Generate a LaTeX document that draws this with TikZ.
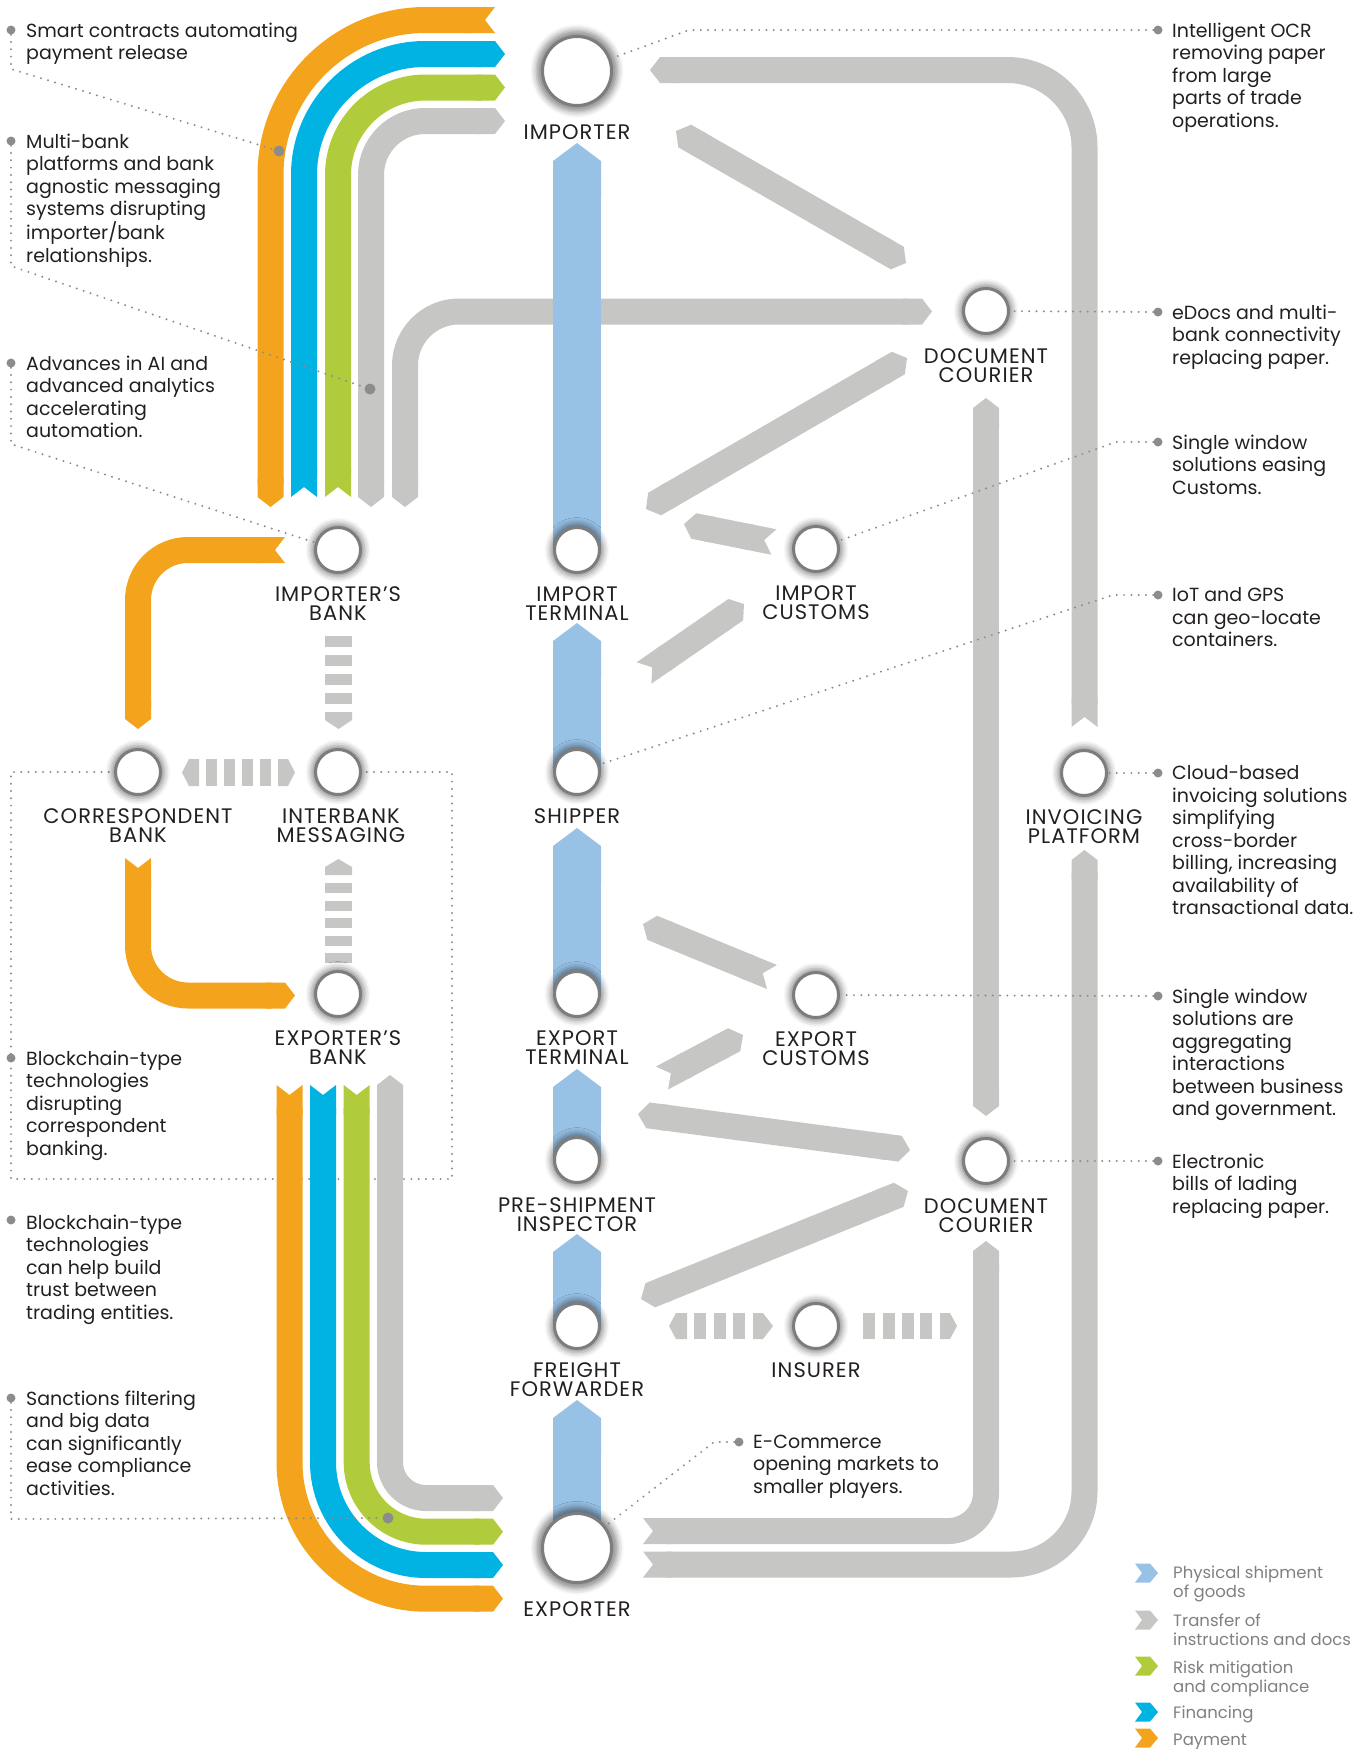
\documentclass[tikz,border=0pt]{standalone}
\usepackage{fontspec}
\setmainfont{Poppins}
\newfontfamily\labelfont{Poppins}[LetterSpace=5]
\usetikzlibrary{arrows.meta,backgrounds,positioning,shadows.blur}
\definecolor{paymentorange}{HTML}{F4A41C}
\definecolor{financecyan}{HTML}{00B3E3}
\definecolor{riskgreen}{HTML}{B0CB3B}
\definecolor{docgray}{HTML}{C6C6C5}
\definecolor{shipblue}{HTML}{98C1E6}
\definecolor{leadergray}{HTML}{8C8C8C}
\definecolor{ringgray}{HTML}{7D7D7D}
\definecolor{inkblack}{HTML}{231F20}
\definecolor{legendgray}{HTML}{808080}

\begin{document}
\begin{tikzpicture}[
  x=1pt, y=-1pt,
  band/.style={line width=26pt},
  pay/.style={band, draw=paymentorange},
  fin/.style={band, draw=financecyan},
  risk/.style={band, draw=riskgreen},
  docs/.style={band, draw=docgray},
  ship/.style={line width=48pt, draw=shipblue, -{Triangle Cap[length=18pt]}},
  tip-tip/.style={{Triangle Cap[length=10pt]}-{Triangle Cap[length=10pt]}},
  notch-tip/.style={{Triangle Cap[reversed,length=10pt]}-{Triangle Cap[length=10pt]}},
  tip-notch/.style={{Triangle Cap[length=10pt]}-{Triangle Cap[reversed,length=10pt]}},
  party/.style={circle, draw=ringgray, fill=white, line width=3pt, minimum size=45pt,
                inner sep=0pt, blur shadow={shadow xshift=0pt, shadow yshift=0pt,
                shadow scale=1.18, shadow blur radius=5pt, shadow opacity=45}},
  bigparty/.style={party, minimum size=69pt},
  lbl/.style={font=\labelfont\fontsize{21}{19}\selectfont, text=inkblack, align=center, inner sep=0pt},
  ann/.style={font=\fontsize{19}{22.5}\selectfont, text=inkblack, align=left,
              inner sep=0pt, anchor=north west},
  legend/.style={font=\fontsize{16.5}{19}\selectfont, text=legendgray, align=left,
                 inner sep=0pt, anchor=north west},
  bullet/.style={circle, fill=leadergray, minimum size=9pt, inner sep=0pt},
  dotmark/.style={circle, fill=leadergray, minimum size=11pt, inner sep=0pt},
  leader/.style={draw=leadergray, line width=2.2pt, line cap=round, dash pattern=on 0pt off 7.3pt},
  chevron/.pic={\fill (0,-9.5) -- (15,-9.5) -- (23,0) -- (15,9.5) -- (0,9.5) -- (7,0) -- cycle;}
]
\useasboundingbox (0,0) rectangle (1370,1749);

% Parties of the trade
\node[bigparty] (imp) at (577,71) {};
\node[party] (impbank) at (338,550) {};
\node[party] (impterm) at (577,550) {};
\node[party] (impcust) at (816,549) {};
\node[party] (courtop) at (986,311) {};
\node[party] (corrbank) at (138,772) {};
\node[party] (ibmsg) at (338,772) {};
\node[party] (shipper) at (577,772) {};
\node[party] (invoice) at (1084,773) {};
\node[party] (expbank) at (338,994) {};
\node[party] (expterm) at (577,994) {};
\node[party] (expcust) at (816,995) {};
\node[party] (inspect) at (577,1160) {};
\node[party] (courbot) at (986,1161) {};
\node[party] (forwarder) at (577,1326) {};
\node[party] (insurer) at (816,1326) {};
\node[bigparty] (exp) at (577,1548) {};

\node[lbl, below=17.5pt of imp] (imp-l) {IMPORTER};
\node[lbl, below=12.5pt of impbank] (impbank-l) {IMPORTER’S\\BANK};
\node[lbl, below=12.5pt of impterm] (impterm-l) {IMPORT\\TERMINAL};
\node[lbl, below=12.5pt of impcust] (impcust-l) {IMPORT\\CUSTOMS};
\node[lbl, below=13.5pt of courtop] (courtop-l) {DOCUMENT\\COURIER};
\node[lbl, below=12.5pt of corrbank] (corrbank-l) {CORRESPONDENT\\BANK};
\node[lbl, below=12.5pt of ibmsg, xshift=3pt] (ibmsg-l) {INTERBANK\\MESSAGING};
\node[lbl, below=12.5pt of shipper] (shipper-l) {SHIPPER};
\node[lbl, below=12.5pt of invoice] (invoice-l) {INVOICING\\PLATFORM};
\node[lbl, below=12.5pt of expbank] (expbank-l) {EXPORTER’S\\BANK};
\node[lbl, below=12.5pt of expterm] (expterm-l) {EXPORT\\TERMINAL};
\node[lbl, below=12.5pt of expcust] (expcust-l) {EXPORT\\CUSTOMS};
\node[lbl, below=13pt of inspect] (inspect-l) {PRE-SHIPMENT\\INSPECTOR};
\node[lbl, below=13pt of courbot] (courbot-l) {DOCUMENT\\COURIER};
\node[lbl, below=12.5pt of forwarder] (forwarder-l) {FREIGHT\\FORWARDER};
\node[lbl, below=12.5pt of insurer] (insurer-l) {INSURER};
\node[lbl, below=17.5pt of exp] (exp-l) {EXPORTER};

\begin{scope}[on background layer]
% dotted frame round the banking corner
\draw[leader] (corrbank.center) -- (11,772) -- (11,1179) -- (452,1179) -- (452,772) -- (ibmsg.center);

% importer side flows
\draw[pay, tip-notch, rounded corners=155pt] (270.5,507) |- (495,20);
\draw[fin, notch-tip, rounded corners=121pt] (304,497) |- (505,54);
\draw[risk, notch-tip, rounded corners=87.5pt] (338,497) |- (505,87.5);
\draw[docs, tip-tip, rounded corners=54pt] (371,507) |- (505,121);
\draw[docs, tip-tip, rounded corners=54pt] (405,507) |- (932,311.5);

% exporter side flows
\draw[pay, notch-tip, rounded corners=136.5pt] (289.5,1085) |- (503,1598.7);
\draw[fin, notch-tip, rounded corners=103pt] (323,1085) |- (503,1565);
\draw[risk, notch-tip, rounded corners=69.5pt] (356.7,1085) |- (503,1531.7);
\draw[docs, tip-tip, rounded corners=36pt] (390,1075) |- (503,1498);

% correspondent banking
\draw[pay, notch-tip, rounded corners=50pt] (285,550) -| (138,729);
\draw[pay, notch-tip, rounded corners=50pt] (138,858) |- (295,995.5);

% documents on the right
\draw[docs, tip-notch, rounded corners=77pt] (650,70) -| (1084.5,727);
\draw[docs, tip-notch, rounded corners=73pt] (1084.5,850) |- (643,1564.5);
\draw[docs, tip-notch, rounded corners=38pt] (986,1241) |- (643,1531);
\draw[docs, tip-tip] (986,398) -- (986,1116);
\draw[docs, tip-tip] (676,131) -- (906,263);
\draw[docs, tip-tip] (646,509) -- (907,358);
\draw[docs, notch-tip] (774,542) -- (684,524);
\draw[docs, notch-tip] (644,673) -- (744,604);
\draw[docs, notch-tip] (772,977) -- (643,924);
\draw[docs, notch-tip] (662,1078) -- (743,1035);
\draw[docs, tip-tip] (638,1114) -- (910,1150);
\draw[docs, tip-tip] (641,1299) -- (908,1191);

% physical shipment spine
\draw[ship] (impterm.center) -- (577,143);
\draw[ship] (shipper.center) -- (577,623);
\draw[ship] (expterm.center) -- (577,828);
\draw[ship] (inspect.center) -- (577,1069);
\draw[ship] (forwarder.center) -- (577,1234);
\draw[ship] (exp.center) -- (577,1400);

% interbank messaging dashes
\foreach \y in {636,655,674,693} \fill[docgray] (325,\y) rectangle (352,\y+11);
\fill[docgray] (325,712) -- (352,712) -- (352,720) -- (338.5,729) -- (325,720) -- cycle;
\foreach \y in {883,901,918,936,953} \fill[docgray] (325,\y) rectangle (352,\y+10);
\fill[docgray] (325,875) -- (352,875) -- (352,867) -- (338.5,859) -- (325,867) -- cycle;
\foreach \x in {206,224,242,260} \fill[docgray] (\x,759) rectangle (\x+11,786);
\fill[docgray] (199,759) -- (189,759) -- (182,772.5) -- (189,786) -- (199,786) -- cycle;
\fill[docgray] (278,759) -- (288,759) -- (295,772.5) -- (288,786) -- (278,786) -- cycle;

% insurer dashes
\foreach \x in {694,714,733} \fill[docgray] (\x,1313) rectangle (\x+12,1339);
\fill[docgray] (687,1313) -- (676,1313) -- (669,1326) -- (676,1339) -- (687,1339) -- cycle;
\fill[docgray] (753,1313) -- (763,1313) -- (773,1326) -- (763,1339) -- (753,1339) -- cycle;
\foreach \x in {863,883,902,920} \fill[docgray] (\x,1313) rectangle (\x+12,1339);
\fill[docgray] (940,1313) -- (950,1313) -- (957,1326) -- (950,1339) -- (940,1339) -- cycle;
\end{scope}

% left notes
\node[bullet] (b-smart) at (11,30) {};
\node[dotmark] (d-smart) at (279,151) {};
\draw[leader] (b-smart) -- (11,69) -- (d-smart);
\node[ann] (t-smart) at (26,22.5) {Smart contracts automating\\payment release};

\node[bullet] (b-multi) at (11,141) {};
\node[dotmark] (d-multi) at (370,389) {};
\draw[leader] (b-multi) -- (11,266) -- (d-multi);
\node[ann] (t-multi) at (26,133.5) {Multi-bank\\platforms and bank\\agnostic messaging\\systems disrupting\\importer/bank\\relationships.};

\node[bullet] (b-ai) at (11,363) {};
\draw[leader] (b-ai) -- (11,444) -- (impbank);
\node[ann] (t-ai) at (26,355.5) {Advances in AI and\\advanced analytics\\accelerating\\automation.};

\node[bullet] (b-corr) at (11,1058) {};
\node[ann] (t-corr) at (26,1050.5) {Blockchain-type\\technologies\\disrupting\\correspondent\\banking.};

\node[bullet] (b-trust) at (11,1220) {};
\node[ann] (t-trust) at (26,1214.5) {Blockchain-type\\technologies\\can help build\\trust between\\trading entities.};

\node[bullet] (b-sanction) at (11,1398) {};
\node[dotmark] (d-sanction) at (388,1518) {};
\draw[leader] (b-sanction) -- (11,1519) -- (d-sanction);
\node[ann] (t-sanction) at (26,1390.5) {Sanctions filtering\\and big data\\can significantly\\ease compliance\\activities.};

% right notes
\node[bullet] (b-ocr) at (1158,30) {};
\draw[leader] (b-ocr) -- (689,30) -- (imp);
\node[ann] (t-ocr) at (1172,22.5) {Intelligent OCR\\removing paper\\from large\\parts of trade\\operations.};

\node[bullet] (b-edocs) at (1158,312) {};
\draw[leader] (b-edocs) -- (courtop);
\node[ann] (t-edocs) at (1172,304.5) {eDocs and multi-\\bank connectivity\\replacing paper.};

\node[bullet] (b-swcust) at (1158,442) {};
\draw[leader] (b-swcust) -- (1116,442) -- (impcust);
\node[ann] (t-swcust) at (1172,434.5) {Single window\\solutions easing\\Customs.};

\node[bullet] (b-iot) at (1158,595) {};
\draw[leader] (b-iot) -- (1113,595) -- (shipper);
\node[ann] (t-iot) at (1172,587.5) {IoT and GPS\\can geo-locate\\containers.};

\node[bullet] (b-cloud) at (1158,773) {};
\draw[leader] (b-cloud) -- (invoice);
\node[ann] (t-cloud) at (1172,765.5) {Cloud-based\\invoicing solutions\\simplifying\\cross-border\\billing, increasing\\availability of\\transactional data.};

\node[bullet] (b-swagg) at (1158,996) {};
\draw[leader] (b-swagg) -- (expcust);
\node[ann] (t-swagg) at (1172,988.5) {Single window\\solutions are\\aggregating\\interactions\\between business\\and government.};

\node[bullet] (b-ebl) at (1158,1161) {};
\draw[leader] (b-ebl) -- (courbot);
\node[ann] (t-ebl) at (1172,1153.5) {Electronic\\bills of lading\\replacing paper.};

\node[bullet] (b-ecom) at (739,1442) {};
\draw[leader] (b-ecom) -- (714,1442) -- (exp);
\node[ann] (t-ecom) at (753,1434.5) {E-Commerce\\opening markets to\\smaller players.};

% legend
\pic[fill=shipblue] at (1135,1573) {chevron};
\node[legend] (leg-ship) at (1173,1566) {Physical shipment\\of goods};
\pic[fill=docgray] at (1135,1620) {chevron};
\node[legend] (leg-docs) at (1173,1614) {Transfer of\\instructions and docs};
\pic[fill=riskgreen] at (1135,1666) {chevron};
\node[legend] (leg-risk) at (1173,1661) {Risk mitigation\\and compliance};
\pic[fill=financecyan] at (1135,1712) {chevron};
\node[legend] (leg-fin) at (1173,1706) {Financing};
\pic[fill=paymentorange] at (1135,1738) {chevron};
\node[legend] (leg-pay) at (1173,1734) {Payment};

\end{tikzpicture}
\end{document}
